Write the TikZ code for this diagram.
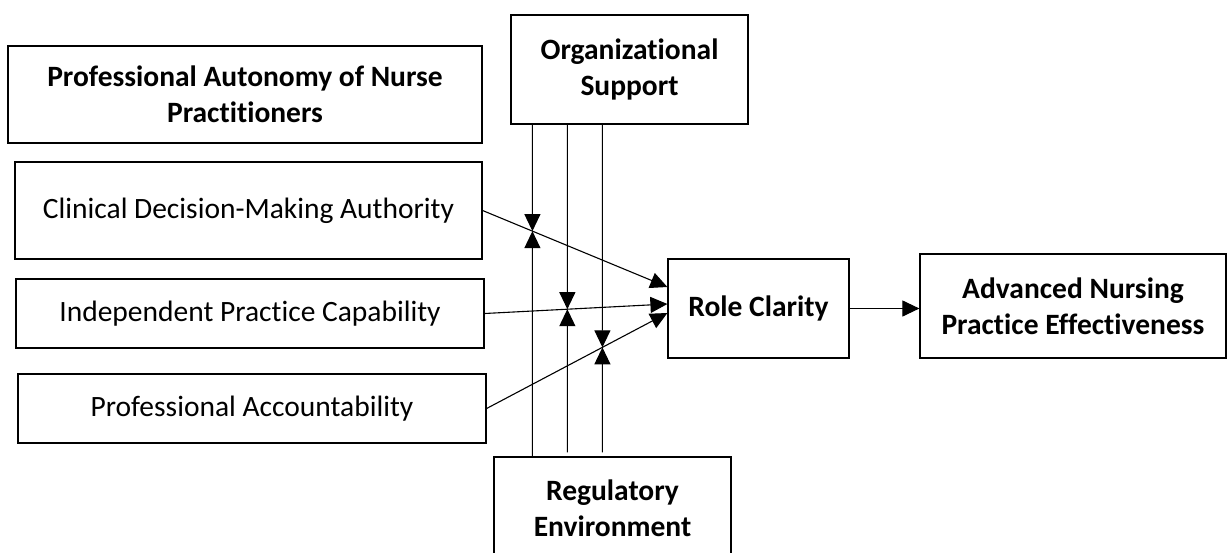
\documentclass[tikz,border=0pt]{standalone}
\usepackage{fontspec}
\setmainfont{Carlito}[Ligatures=NoCommon]
\usetikzlibrary{arrows.meta,calc}
\begin{document}
\begin{tikzpicture}[x=1pt,y=-1pt,
  box/.style={draw, line width=1.2pt, inner sep=0pt, align=center,
    font=\fontsize{29.5}{36}\selectfont},
  hd/.style={box, font=\bfseries\fontsize{29.5}{36}\selectfont},
  link/.style={line width=1.1pt, -{Triangle[length=17pt,width=16pt]}}]
\useasboundingbox (0,0) rectangle (1227,552);

% construct and dimensions
\node[hd, minimum width=474pt, minimum height=97pt] (pa) at (245,94.5)
  {Professional Autonomy of Nurse\\Practitioners};
\node[box, minimum width=467pt, minimum height=97pt] (cda) at (248.5,210.5)
  {Clinical Decision-Making Authority};
\node[box, minimum width=468pt, minimum height=69pt] (ipc) at (250,313.5)
  {Independent Practice Capability};
\node[box, minimum width=468pt, minimum height=69pt] (pac) at (252,408.5)
  {Professional Accountability};

% moderators
\node[hd, minimum width=237pt, minimum height=109pt] (org) at (629.5,69.5)
  {Organizational\\Support};
\node[hd, minimum width=237pt, minimum height=103pt] (reg) at (612.5,508.5)
  {Regulatory\\Environment};

% mediator and outcome
\node[hd, minimum width=181pt, minimum height=99pt] (role) at (758.5,308.5)
  {Role Clarity};
\node[hd, minimum width=306pt, minimum height=104pt] (anpe) at (1073,306)
  {Advanced Nursing\\Practice Effectiveness};

% arrow targets on the mediator
\coordinate (t1) at ($(role.west)+(0,-21.5)$);
\coordinate (t2) at ($(role.west)+(0,-4.5)$);
\coordinate (t3) at ($(role.west)+(0,4.5)$);

% moderator line positions
\coordinate (o1) at ($(org.south west)+(22,0)$);
\coordinate (o2) at ($(org.south west)+(57,0)$);
\coordinate (o3) at ($(org.south west)+(92,0)$);
\coordinate (r1) at (o1 |- reg.north);
\coordinate (r2) at ($(o2 |- reg.north)+(0,-4)$);
\coordinate (r3) at ($(o3 |- reg.north)+(0,-4)$);

% meeting points of moderator lines and paths
\coordinate (m1) at (intersection of cda.east--t1 and o1--r1);
\coordinate (m2) at (intersection of ipc.east--t2 and o2--r2);
\coordinate (m3) at (intersection of pac.east--t3 and o3--r3);

\draw[link] (cda.east) -- (t1);
\draw[link] (ipc.east) -- (t2);
\draw[link] (pac.east) -- (t3);
\draw[link] (role.east) -- (role.east -| anpe.west);

\foreach \i in {1,2,3} {
  \draw[link] (o\i) -- (m\i);
  \draw[link] (r\i) -- (m\i);
}
\end{tikzpicture}
\end{document}
